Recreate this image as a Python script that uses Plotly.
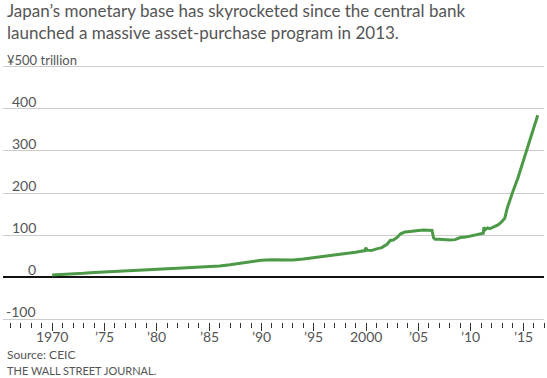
import plotly.graph_objects as go

# Monetary base, trillion yen
years = [1970.0, 1971, 1972, 1973, 1974, 1975, 1976, 1977, 1978, 1979, 1980, 1981, 1982, 1983,
         1984, 1985, 1986, 1987, 1988, 1989, 1990, 1991, 1992, 1993, 1994, 1995, 1996, 1997,
         1998, 1999, 1999.9, 1999.97, 2000.1, 2000.5, 2001, 2001.5, 2002, 2002.3, 2002.6, 2003,
         2003.3, 2003.7, 2004, 2004.5, 2005, 2005.5, 2006.0, 2006.3, 2006.45, 2006.6, 2007,
         2007.5, 2008, 2008.5, 2009, 2009.5, 2010, 2010.5, 2011, 2011.2, 2011.25, 2011.4, 2011.6,
         2011.8, 2012, 2012.3, 2012.6, 2012.9, 2013.1, 2013.25, 2013.5, 2013.75, 2014.0, 2014.5,
         2015.0, 2015.5, 2016.0, 2016.4]
values = [5, 6, 7, 9, 11, 12.5, 14, 15, 16.5, 18, 19.5, 20, 21, 22,
          23, 24.5, 26, 29, 33, 37, 40, 41, 40, 40.5, 43, 46, 49, 52,
          56, 59, 63, 70, 64, 63, 67, 70, 78, 87, 88, 95,
          103, 107, 108, 110, 111, 112, 112, 111, 93, 90, 90,
          89, 88, 89, 94, 95, 98, 100, 103, 104, 118, 113, 117,
          115, 117, 120, 124, 130, 135, 140, 165, 185, 202, 235,
          275, 318, 356, 385]

x_tick_vals = [1970, 1975, 1980, 1985, 1990, 1995, 2000, 2005, 2010, 2015]
x_tick_text = ["1970", "\u201975", "\u201980", "\u201985", "\u201990", "\u201995", "2000",
               "\u201905", "\u201910", "\u201915"]
y_grid_vals = [-100, 0, 100, 200, 300, 400, 500]
y_tick_vals = [400, 300, 200, 100, 0, -100]
y_tick_text = ["400", "300", "200", "100", "0", "-100"]

FONT = "Lato"
GRAY = "#555555"

W, H = 547, 378
ml, mr, mt, mb = 3, 3, 64, 56
PW, PH = W - ml - mr, H - mt - mb


def px_x(px):
    return (px - ml) / PW


def px_y(py):
    return (H - mb - py) / PH


fig = go.Figure()
fig.add_trace(go.Scatter(x=years, y=values, mode="lines",
                         line=dict(color="#4c9a47", width=3), hoverinfo="skip"))

fig.update_layout(
    width=W, height=H,
    margin=dict(l=ml, r=mr, t=mt, b=mb),
    paper_bgcolor="white", plot_bgcolor="white",
    showlegend=False,
    font=dict(family=FONT, color=GRAY),
    xaxis=dict(
        range=[1965.3, 2017.0],
        tickmode="array", tickvals=x_tick_vals, ticktext=x_tick_text,
        showticklabels=False,
        ticks="outside", ticklen=8, tickwidth=1.2, tickcolor="#333333",
        minor=dict(tickmode="linear", dtick=1, tick0=1970, ticks="outside", ticklen=5,
                   tickwidth=1.2, tickcolor="#333333", showgrid=False),
        showgrid=False, zeroline=False, showline=False,
    ),
    yaxis=dict(
        range=[-107, 507],
        tickmode="array", tickvals=y_grid_vals,
        showticklabels=False, ticks="",
        showgrid=True, gridcolor="#cccccc", gridwidth=1,
        zeroline=True, zerolinecolor="#111111", zerolinewidth=1.5,
        showline=False,
    ),
)

annotations = []
for v, t in zip(x_tick_vals, x_tick_text):
    annotations.append(dict(x=v, xref="x", y=0, yref="paper", text=t, showarrow=False,
                            xanchor="center", yanchor="top", yshift=-4,
                            font=dict(family=FONT, size=14, color=GRAY)))
for v, t in zip(y_tick_vals, y_tick_text):
    annotations.append(dict(x=px_x(38), xref="paper", y=v, yref="y", text=t, showarrow=False,
                            xanchor="right", yanchor="bottom", yshift=-3,
                            font=dict(family=FONT, size=14, color=GRAY)))
annotations.append(dict(x=px_x(5), xref="paper", y=500, yref="y",
                        text="\u00a5500 trillion", showarrow=False, xanchor="left",
                        yanchor="bottom", yshift=-3, font=dict(family=FONT, size=13, color=GRAY)))
annotations.append(dict(x=px_x(5), xref="paper", y=px_y(-2), yref="paper",
                        text="Japan\u2019s monetary base has skyrocketed since the central bank<br>"
                             "launched a massive asset-purchase program in 2013.",
                        showarrow=False, xanchor="left", yanchor="top", align="left",
                        font=dict(family=FONT, size=17, color=GRAY)))
annotations.append(dict(x=px_x(5), xref="paper", y=px_y(345), yref="paper",
                        text="Source: CEIC", showarrow=False, xanchor="left", yanchor="top",
                        font=dict(family=FONT, size=12, color=GRAY)))
annotations.append(dict(x=px_x(5), xref="paper", y=px_y(362), yref="paper",
                        text="THE WALL STREET JOURNAL.", showarrow=False, xanchor="left",
                        yanchor="top", font=dict(family=FONT, size=11, color=GRAY)))
fig.update_layout(annotations=annotations)

fig.write_html("out.html", config={"displayModeBar": False},
               post_script="document.body.style.margin='0';document.body.style.padding='0';")
